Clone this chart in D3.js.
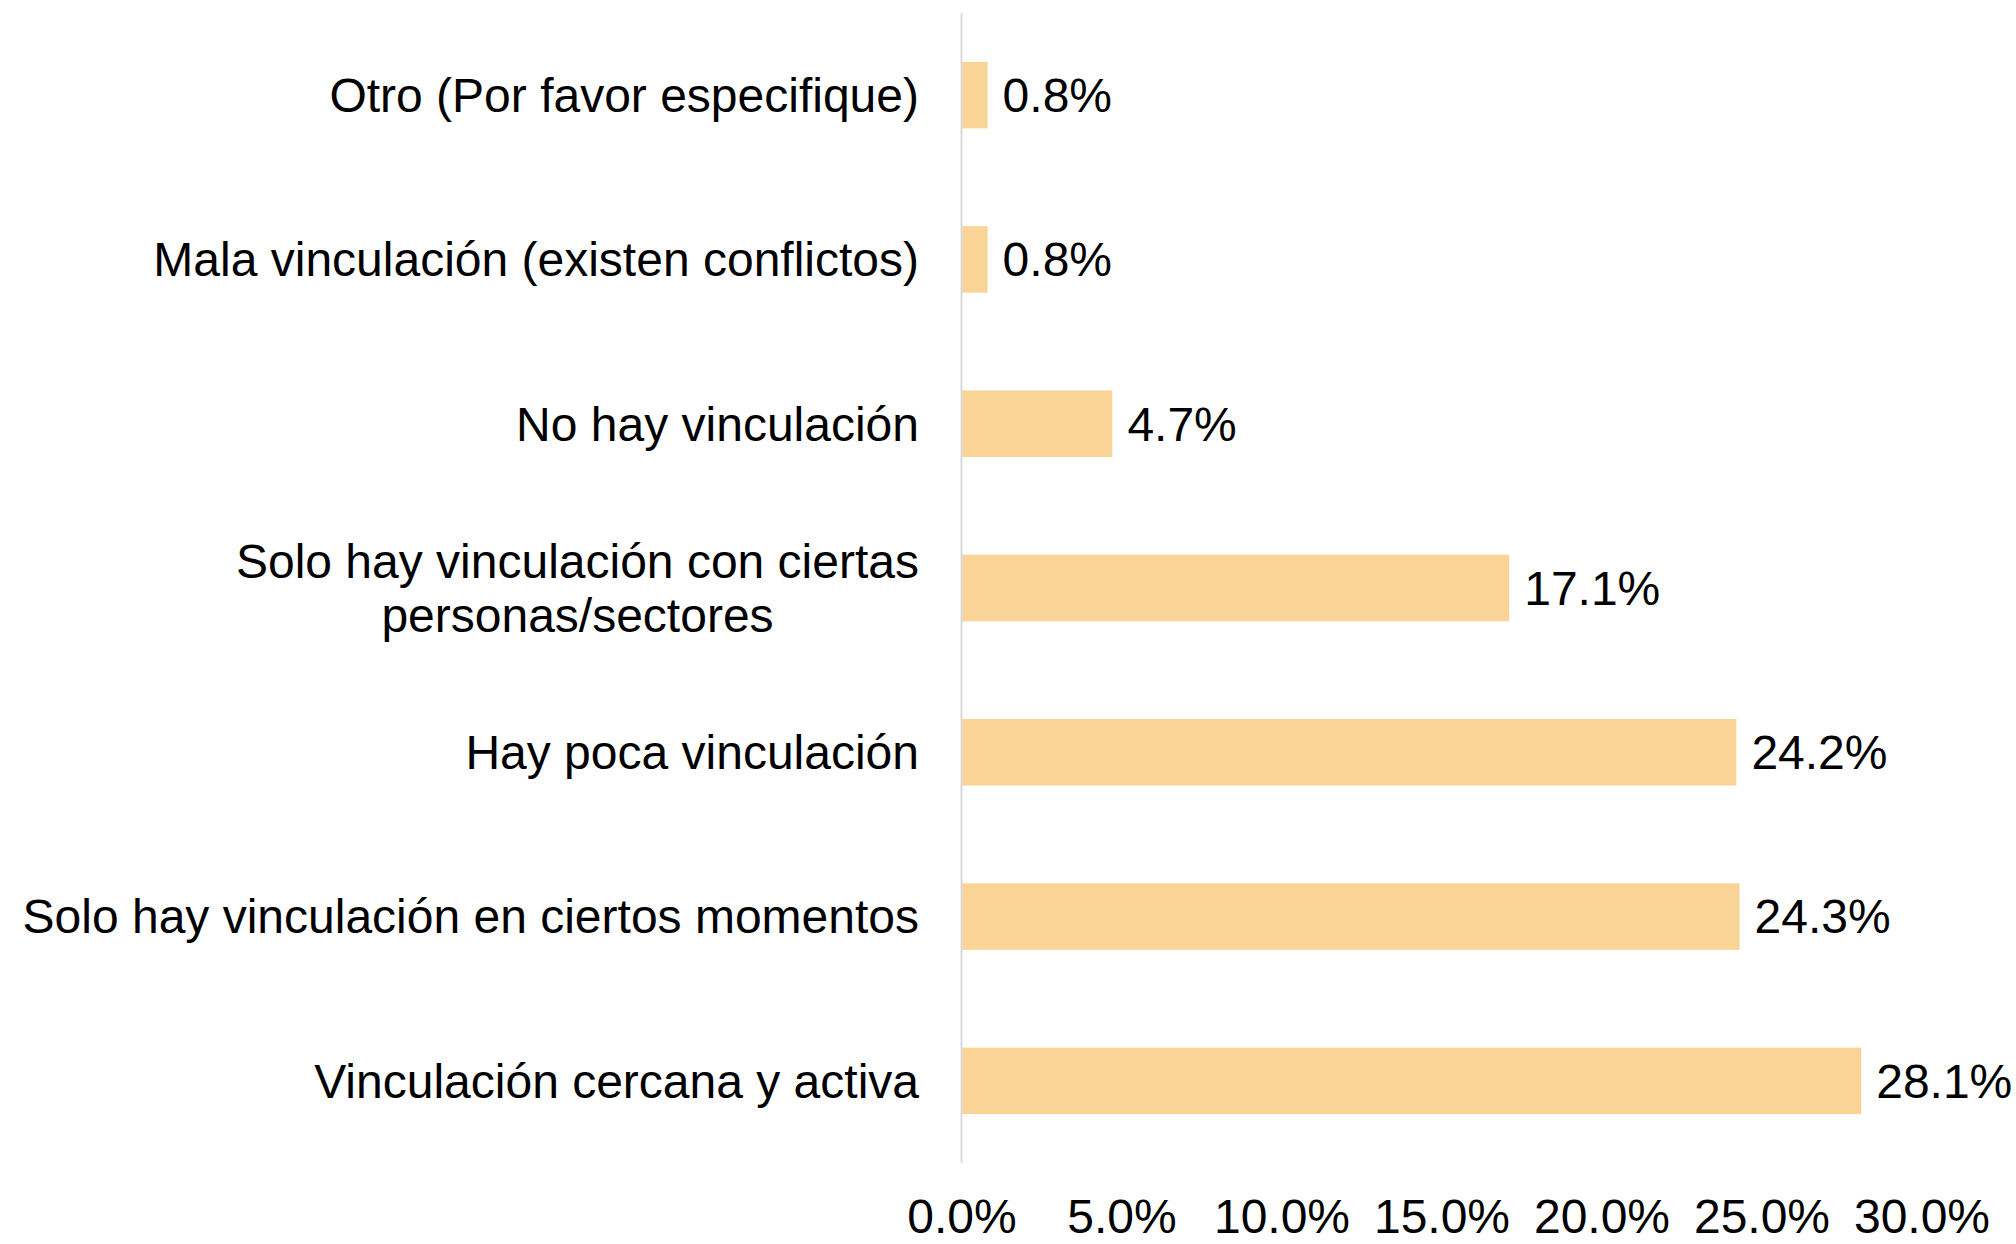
<!DOCTYPE html>
<html>
<head>
<meta charset="utf-8">
<script src="https://cdn.jsdelivr.net/npm/d3@7"></script>
<style>
  body { margin: 0; background: #fff; }
  text { font-family: "Liberation Sans", Arial, sans-serif; fill: #000; }
</style>
</head>
<body>
<div id="chart"></div>
<script>
// categories top to bottom, values in %
const categories = [
  "Otro (Por favor especifique)",
  "Mala vinculación (existen conflictos)",
  "No hay vinculación",
  "Solo hay vinculación con ciertas personas/sectores",
  "Hay poca vinculación",
  "Solo hay vinculación en ciertos momentos",
  "Vinculación cercana y activa"
];
const values = [0.8, 0.8, 4.7, 17.1, 24.2, 24.3, 28.1];
const ticks = [0, 5, 10, 15, 20, 25, 30];
// manual line breaks for long labels
const labelLines = {
  "Solo hay vinculación con ciertas personas/sectores": ["Solo hay vinculación con ciertas", "personas/sectores"]
};

const width = 2016, height = 1244;
const fontSize = 48;

const svg = d3.select("#chart").append("svg")
  .attr("width", width)
  .attr("height", height);

const x = d3.scaleLinear().domain([0, 30]).range([962, 1922]);
const y = d3.scaleBand()
  .domain(categories)
  .range([13, 1163])
  .paddingInner(0.595)
  .paddingOuter(0.2975);

// bars
svg.selectAll("rect.bar")
  .data(values)
  .join("rect")
  .attr("class", "bar")
  .attr("x", x(0))
  .attr("y", (d, i) => y(categories[i]))
  .attr("width", d => x(d) - x(0))
  .attr("height", y.bandwidth())
  .attr("fill", "#F9D496");

// vertical axis line
svg.append("line")
  .attr("x1", x(0) - 0.5).attr("x2", x(0) - 0.5)
  .attr("y1", 13).attr("y2", 1163)
  .attr("stroke", "#d9d9d9")
  .attr("stroke-width", 2);

// value labels
svg.selectAll("text.val")
  .data(values)
  .join("text")
  .attr("class", "val")
  .attr("x", d => x(d) + 15)
  .attr("y", (d, i) => y(categories[i]) + y.bandwidth() / 2)
  .attr("dy", "0.35em")
  .style("font-size", fontSize + "px")
  .text(d => d.toFixed(1) + "%");

// category labels
const labelX = 919;
const lineH = 54;
categories.forEach(c => {
  const cy = y(c) + y.bandwidth() / 2;
  const lines = labelLines[c];
  if (!lines) {
    svg.append("text")
      .attr("x", labelX)
      .attr("y", cy)
      .attr("dy", "0.35em")
      .attr("text-anchor", "end")
      .style("font-size", fontSize + "px")
      .text(c);
  } else {
    const t = svg.append("text")
      .attr("text-anchor", "middle")
      .style("font-size", fontSize + "px");
    const spans = lines.map((l, i) => t.append("tspan")
      .attr("x", 0)
      .attr("y", cy + (i - (lines.length - 1) / 2) * lineH)
      .attr("dy", "0.35em")
      .text(l));
    const w = d3.max(spans, s => s.node().getComputedTextLength());
    spans.forEach(s => s.attr("x", labelX - w / 2));
  }
});

// x tick labels (baseline kept just inside the bottom edge)
svg.selectAll("text.tick")
  .data(ticks)
  .join("text")
  .attr("class", "tick")
  .attr("x", d => x(d))
  .attr("y", 1233)
  .attr("text-anchor", "middle")
  .style("font-size", fontSize + "px")
  .text(d => d.toFixed(1) + "%");
</script>
</body>
</html>
